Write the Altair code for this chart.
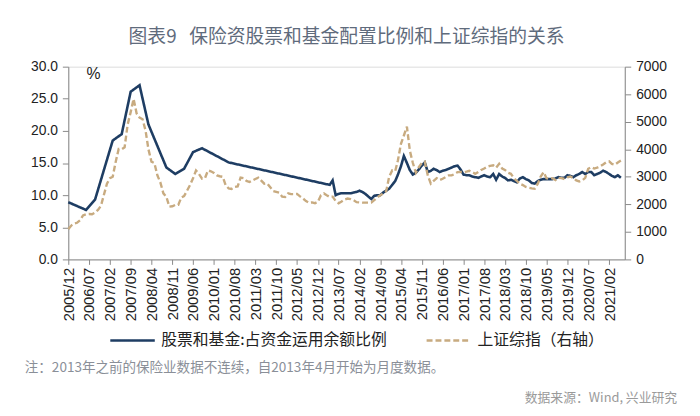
import altair as alt
import pandas as pd

TITLE = "图表9\u00a0\u00a0\u00a0保险资股票和基金配置比例和上证综指的关系"
S1 = "股票和基金:占资金运用余额比例"
S2 = "上证综指（右轴）"
NOTE = "注：2013年之前的保险业数据不连续，自2013年4月开始为月度数据。"
SOURCE = "数据来源：Wind, 兴业研究"
UNIT = "%"

TICK_LABELS = ["2005/12", "2006/07", "2007/02", "2007/09", "2008/04", "2008/11",
               "2009/06", "2010/01", "2010/08", "2011/03", "2011/10", "2012/05",
               "2012/12", "2013/07", "2014/02", "2014/09", "2015/04", "2015/11",
               "2016/06", "2017/01", "2017/08", "2018/03", "2018/10", "2019/05",
               "2019/12", "2020/07", "2021/02"]
LEFT_TICKS = [0, 5, 10, 15, 20, 25, 30]
RIGHT_TICKS = [0, 1000, 2000, 3000, 4000, 5000, 6000, 7000]

# insurance funds: stocks & funds share of total investment (%), sparse before 2013/04
RATIO_EARLY_DATES = ["2005/12", "2006/06", "2006/09", "2007/03", "2007/06", "2007/09",
                     "2007/12", "2008/03", "2008/09", "2008/12", "2009/03", "2009/06",
                     "2009/09", "2010/06", "2013/04", "2013/05", "2013/06"]
RATIO_EARLY_VALUES = [8.9, 7.7, 9.3, 18.5, 19.5, 26.1, 27.1, 21.0, 14.3, 13.3, 14.1, 16.7,
                      17.3, 15.1, 11.6, 12.3, 10.0]

RATIO_MONTHLY_START = "2013-07-01"
RATIO_MONTHLY_VALUES = [
    10.2, 10.3, 10.3, 10.3, 10.3, 10.4,
    10.5, 10.7, 10.5, 10.2, 9.8, 9.4, 9.9, 10.0, 10.0, 10.4, 10.7, 11.0,
    11.6, 12.2, 13.2, 14.5, 16.1, 15.0, 13.9, 13.2, 13.5, 14.0, 14.6, 15.1,
    13.6, 13.8, 14.1, 13.9, 13.6, 13.8, 13.9, 14.1, 14.3, 14.5, 14.6, 14.0,
    13.2, 13.1, 13.1, 12.9, 12.8, 12.7, 12.9, 13.1, 12.9, 12.8, 13.3, 12.4,
    13.3, 12.9, 12.7, 12.3, 12.4, 12.2, 12.0, 12.6, 12.8, 12.5, 12.3, 11.9,
    11.8, 12.2, 12.4, 12.5, 12.5, 12.5, 12.5, 12.6, 12.8, 12.7, 12.7, 13.1,
    13.0, 12.8, 13.1, 13.3, 13.6, 13.3, 13.6, 13.6, 13.1, 13.3, 13.5, 13.8,
    13.6, 13.3, 13.0, 12.8, 13.1, 12.7,
]

# Shanghai Composite, monthly from 2005/12
SSE_START = "2005-12-01"
SSE_VALUES = [
    1100,
    1230, 1300, 1330, 1420, 1600, 1640, 1650, 1640, 1700, 1800, 1950, 2350,
    2750, 2950, 3000, 3550, 4010, 4000, 4070, 4900, 5350, 5830, 5300, 5150,
    5090, 4670, 4000, 3550, 3500, 3050, 2800, 2400, 2270, 1915, 1930, 1980,
    1980, 2250, 2300, 2500, 2700, 2950, 3230, 3100, 2930, 2950, 3230, 3200,
    3140, 3050, 3020, 3000, 2700, 2575, 2560, 2630, 2650, 2970, 2950, 2850,
    2810, 2870, 2920, 2970, 2860, 2750, 2760, 2620, 2480, 2450, 2420, 2280,
    2270, 2400, 2370, 2370, 2380, 2290, 2214, 2120, 2060, 2070, 2040, 2095,
    2330, 2394, 2330, 2270, 2280, 2120, 2040, 2100, 2175, 2210, 2190, 2150,
    2080, 2070, 2060, 2060, 2060, 2060, 2150, 2250, 2330, 2400, 2480, 3000,
    3230, 3200, 3600, 4200, 4500, 4820, 3950, 3500, 3150, 3350, 3500, 3550,
    3050, 2750, 2850, 2950, 2880, 2930, 2990, 3050, 3050, 3100, 3170, 3180,
    3170, 3190, 3220, 3170, 3110, 3170, 3250, 3300, 3370, 3400, 3420, 3330,
    3470, 3300, 3250, 3150, 3110, 2950, 2850, 2750, 2700, 2630, 2600, 2580,
    2570, 2750, 3000, 3170, 2950, 2930, 2950, 2880, 2960, 2950, 2920, 2980,
    3010, 2950, 2870, 2830, 2870, 2960, 3290, 3350, 3300, 3330, 3380, 3450,
    3530, 3560, 3470, 3440, 3520, 3590,
]

BLUE = "#1e3d63"
GOLD = "#c8ab80"
AXIS_GRAY = "#8a8a8a"
CJK = "Noto Sans CJK SC"
LATIN = "Liberation Sans"

monthly_dates = pd.date_range(RATIO_MONTHLY_START, periods=len(RATIO_MONTHLY_VALUES), freq="MS")
ratio_df = pd.DataFrame({
    "date": [d + "/01" for d in RATIO_EARLY_DATES] + [d.strftime("%Y/%m/%d") for d in monthly_dates],
    "v": RATIO_EARLY_VALUES + RATIO_MONTHLY_VALUES,
    "series": S1,
})
sse_dates = pd.date_range(SSE_START, periods=len(SSE_VALUES), freq="MS")
sse_df = pd.DataFrame({
    "date": [d.strftime("%Y/%m/%d") for d in sse_dates],
    "v": SSE_VALUES,
    "series": S2,
})

x_scale = alt.Scale(domain=[alt.DateTime(year=2005, month=12, date=1),
                            alt.DateTime(year=2021, month=7, date=11)])
x_axis = alt.Axis(
    values=[alt.DateTime(year=int(s[:4]), month=int(s[5:]), date=1) for s in TICK_LABELS],
    format="%Y/%m", labelAngle=270, labelFont=LATIN, labelFontSize=15,
    labelColor="#222222", tickSize=5, tickColor=AXIS_GRAY, domainColor=AXIS_GRAY,
    labelOverlap=False, labelFlush=False, title=None, grid=False, labelPadding=3,
)

legend = alt.Legend(
    title=None, orient="none", legendX=41, legendY=253, direction="horizontal",
    symbolType="stroke", symbolSize=2025, symbolStrokeWidth=2.6,
    labelFont=CJK, labelFontSize=16, labelColor="#222222", labelLimit=400,
    columnPadding=34, padding=0, labelOffset=5,
)
color = alt.Color("series:N", scale=alt.Scale(domain=[S1, S2], range=[BLUE, GOLD]), legend=legend)
dash = alt.StrokeDash("series:N", scale=alt.Scale(domain=[S1, S2], range=[[1, 0], [6, 3]]), legend=legend)

blue = alt.Chart(ratio_df).mark_line(strokeWidth=2.6).encode(
    x=alt.X("date:T", scale=x_scale, axis=x_axis),
    y=alt.Y("v:Q", scale=alt.Scale(domain=[0, 30]),
            axis=alt.Axis(orient="left", values=LEFT_TICKS, format=".1f", title=None, grid=False,
                          labelFont=LATIN, labelFontSize=14, labelColor="#222222",
                          tickSize=6, tickColor=AXIS_GRAY, domainColor=AXIS_GRAY, labelPadding=5)),
    color=color, strokeDash=dash,
)

gold = alt.Chart(sse_df).mark_line(strokeWidth=2.4).encode(
    x=alt.X("date:T", scale=x_scale, axis=x_axis),
    y=alt.Y("v:Q", scale=alt.Scale(domain=[0, 7000]),
            axis=alt.Axis(orient="right", values=RIGHT_TICKS, format="d", title=None, grid=False,
                          labelFont=LATIN, labelFontSize=14, labelColor="#222222",
                          tickSize=6, tickColor=AXIS_GRAY, domainColor=AXIS_GRAY, labelPadding=5)),
    color=color, strokeDash=dash,
)

pct = alt.Chart(pd.DataFrame({"t": [UNIT]})).mark_text(
    font=LATIN, fontSize=16, color="#222222", align="center", baseline="middle"
).encode(x=alt.value(25.5), y=alt.value(7.5), text="t:N")

note = alt.Chart(pd.DataFrame({"t": [NOTE]})).mark_text(
    font=CJK, fontSize=13.7, color="#8a8f98", align="left", baseline="middle"
).encode(x=alt.value(-44), y=alt.value(305), text="t:N")

src = alt.Chart(pd.DataFrame({"t": [SOURCE]})).mark_text(
    font=CJK, fontSize=13, color="#9a9a9a", align="right", baseline="middle"
).encode(x=alt.value(616), y=alt.value(335), text="t:N")

chart = alt.layer(blue, gold, pct, note, src).resolve_scale(y="independent").properties(
    width=563, height=195,
    title=alt.TitleParams(TITLE, anchor="middle", font=CJK, fontSize=19, fontWeight="normal",
                          color="#5f6b7c", offset=13),
    autosize=alt.AutoSizeParams(type="none"),
    padding={"left": 61, "top": 57, "right": 68, "bottom": 150},
).configure_view(stroke=None).configure(background="white")

chart.save("out.html", embed_options={"renderer": "svg", "actions": False})
